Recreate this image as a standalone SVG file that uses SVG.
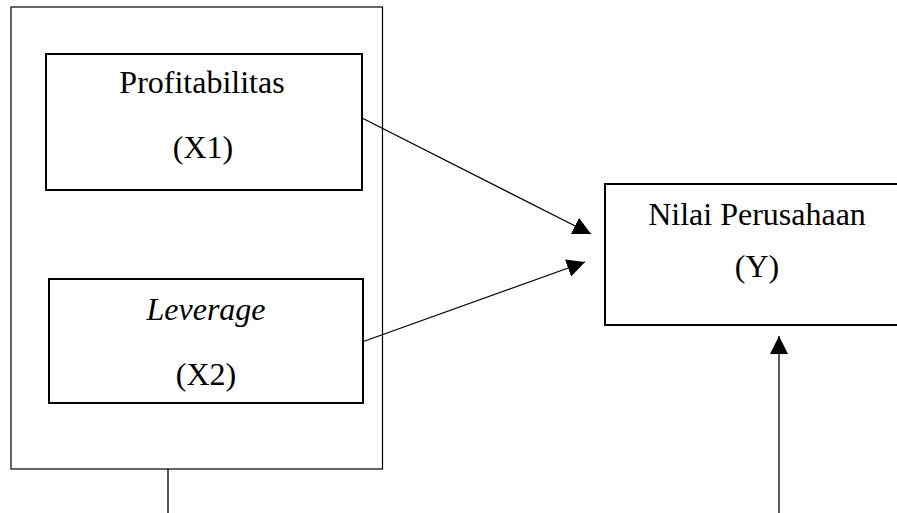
<svg xmlns="http://www.w3.org/2000/svg" width="897" height="513" viewBox="0 0 897 513">
  <style>
    .box { fill: #ffffff; stroke: #000000; stroke-width: 2; }
    .outer { fill: none; stroke: #000000; stroke-width: 1.2; }
    .lbl { font-family: "Liberation Serif", "Times New Roman", serif; font-size: 32px; fill: #000000; text-anchor: middle; }
    .it { font-style: italic; }
    .conn { stroke: #000000; stroke-width: 1.3; fill: none; }
  </style>
  <defs>
    <marker id="arrow" markerUnits="userSpaceOnUse" markerWidth="18" markerHeight="18" viewBox="0 0 16 16" refX="16" refY="8" orient="auto">
      <path d="M0,0 L16,8 L0,16 Z" fill="#000000"/>
    </marker>
  </defs>
  <rect width="897" height="513" fill="#ffffff"/>
  <g id="outer-group">
    <rect class="outer" x="11" y="7" width="371.5" height="462"/>
  </g>
  <g id="node-x1">
    <rect class="box" x="46" y="54" width="316" height="136"/>
    <text class="lbl" x="202" y="93">Profitabilitas</text>
    <text class="lbl" x="203" y="158">(X1)</text>
  </g>
  <g id="node-x2">
    <rect class="box" x="49" y="279" width="314" height="124"/>
    <text class="lbl it" x="206" y="320">Leverage</text>
    <text class="lbl" x="206" y="385">(X2)</text>
  </g>
  <g id="node-y">
    <rect class="box" x="605" y="184" width="300" height="141"/>
    <text class="lbl" x="757" y="225">Nilai Perusahaan</text>
    <text class="lbl" x="757" y="277">(Y)</text>
  </g>
  <g id="connectors">
    <line class="conn" x1="362" y1="118" x2="591" y2="234" marker-end="url(#arrow)"/>
    <line class="conn" x1="362" y1="342" x2="585" y2="262" marker-end="url(#arrow)"/>
    <line class="conn" x1="168" y1="469" x2="168" y2="513"/>
    <line class="conn" x1="779" y1="513" x2="779" y2="336" marker-end="url(#arrow)"/>
  </g>
</svg>
